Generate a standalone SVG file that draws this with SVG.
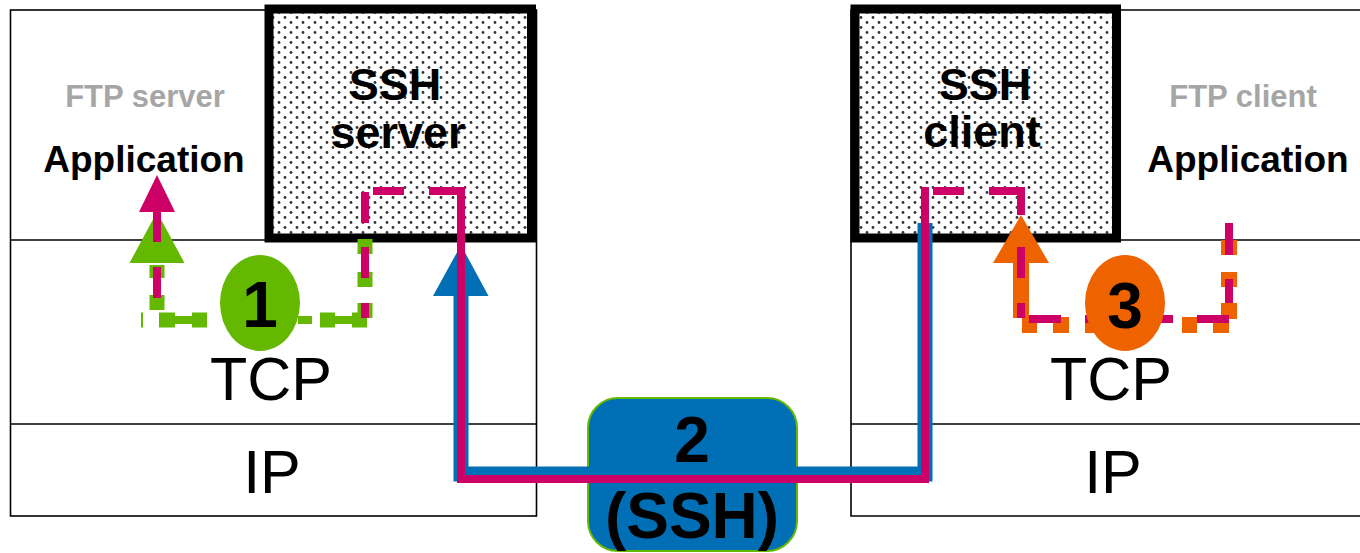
<svg xmlns="http://www.w3.org/2000/svg" width="1360" height="553" viewBox="0 0 1360 553">
<defs>
<pattern id="dots" width="12" height="10" patternUnits="userSpaceOnUse">
<rect width="12" height="10" fill="#fff"/>
<circle cx="3" cy="2.5" r="1.4" fill="#333"/>
<circle cx="9" cy="7.5" r="1.4" fill="#333"/>
</pattern>
<style>
text{font-family:"Liberation Sans",Arial,Helvetica,sans-serif;text-anchor:middle;fill:#000}
.b{font-weight:bold}
.gray{fill:#A6A6A6}
.layer{fill:none;stroke:#000;stroke-width:1.6}
.ssh{fill:url(#dots);stroke:#000;stroke-width:9}
.mg{fill:none;stroke:#CC0066;stroke-width:8}
.gr{fill:none;stroke:#64B800;stroke-width:15}
.grt{fill:none;stroke:#64B800;stroke-width:8}
.or{fill:none;stroke:#EE6200;stroke-width:16}
.bl{fill:none;stroke:#006FB6;stroke-width:15;stroke-linejoin:miter}
</style>
</defs>
<rect width="1360" height="553" fill="#fff"/>

<g id="host-left">
<rect class="layer" x="10.5" y="10" width="526" height="506"/>
<line class="layer" x1="10.5" y1="240" x2="536.5" y2="240"/>
<line class="layer" x1="10.5" y1="424" x2="536.5" y2="424"/>
<text x="145" y="107" font-size="31" class="b gray">FTP server</text>
<text x="144" y="172" font-size="37" class="b">Application</text>
<text x="271" y="400" font-size="61">TCP</text>
<text x="272" y="493" font-size="61">IP</text>
</g>

<g id="host-right">
<path class="layer" d="M1370,10 H851 V516 H1370"/>
<line class="layer" x1="851" y1="240" x2="1370" y2="240"/>
<line class="layer" x1="851" y1="424" x2="1370" y2="424"/>
<text x="1243" y="107" font-size="31" class="b gray">FTP client</text>
<text x="1248" y="172" font-size="37" class="b">Application</text>
<text x="1111" y="400" font-size="61">TCP</text>
<text x="1113" y="493" font-size="61">IP</text>
</g>

<g id="ssh-server">
<rect class="ssh" x="269" y="9" width="262.5" height="229"/>
<text x="395" y="100" font-size="45" class="b">SSH</text>
<text x="398" y="148" font-size="45" class="b">server</text>
</g>

<g id="ssh-client">
<rect class="ssh" x="855" y="9" width="261.5" height="229"/>
<text x="985" y="100" font-size="45" class="b">SSH</text>
<text x="982" y="147" font-size="45" class="b">client</text>
</g>

<g id="tunnel">
<rect x="588" y="398" width="209" height="153" rx="30" ry="30" fill="#006FB6" stroke="#66B800" stroke-width="2"/>
<text x="692" y="462" font-size="64" class="b">2</text>
<text x="692" y="538" font-size="64" class="b">(SSH)</text>
</g>

<g id="connectors">
<path class="bl" d="M461,296 V474 H925 V223"/>
<polygon points="461,245 433,296 488.5,296" fill="#006FB6"/>

<polygon points="157,212 129.5,263 184.5,263" fill="#64B800"/>
<path class="gr" d="M365,239 V254 M365,272 V287 M365,303 V318 M367,320 H352 M335,320 H320 M207,320 H192 M175,320 H159 M157,265 V278 M157,295 V310"/>
<path class="grt" d="M352,320 H335 M312,320 H298 M192,320 H175"/>
<path fill="none" stroke="#64B800" stroke-width="2" d="M142,312.5 V327.5"/>

<polygon points="1021,215 993,263 1049,263" fill="#EE6200"/>
<path class="or" d="M1021,263 V318 M1022,325 H1037 M1053,325 H1069 M1085,325 H1100 M1182,325 H1197 M1213,325 H1229 M1229,240 V255 M1229,272 V287 M1229,303 V319"/>

<path class="mg" d="M461,187 V479 H925 V187"/>
<path class="mg" d="M461,191 H429 M404,191 H373 M365,192 V223 M365,247 V278 M365,303 V318 M157,242 V210 M157,298 V267"/>
<path class="mg" d="M933,191 H964 M989,191 H1025 M1021,191 V215 M1021,247 V278 M1021,303 V318 M1029,319 H1061 M1085,319 H1117 M1141,319 H1173 M1197,319 H1229 M1229,303 V279 M1229,255 V223"/>
<polygon points="157,175 139,212 175,212" fill="#CC0066"/>
</g>

<g id="step1">
<ellipse cx="260" cy="303" rx="40" ry="48" fill="#64B800"/>
<text x="260" y="327" font-size="64" class="b">1</text>
</g>

<g id="step3">
<ellipse cx="1125" cy="303" rx="40" ry="48" fill="#EE6200"/>
<text x="1125" y="328" font-size="64" class="b">3</text>
</g>
</svg>
